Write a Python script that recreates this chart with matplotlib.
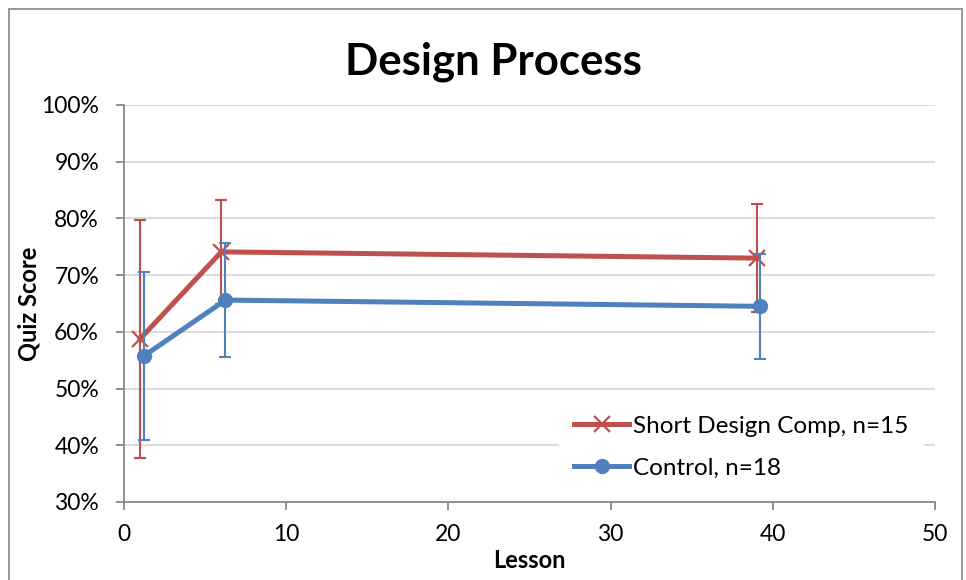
import matplotlib.pyplot as plt
from matplotlib.lines import Line2D
from matplotlib.patches import Rectangle
from matplotlib.ticker import PercentFormatter

# Values
design_lesson = [1, 6, 39]
design_score = [58.8, 74.1, 73.0]
design_err = [21.0, 9.2, 9.5]

control_lesson = [1.25, 6.25, 39.2]
control_score = [55.8, 65.6, 64.5]
control_err = [14.8, 10.0, 9.3]

labels = ["Short Design Comp, n=15", "Control, n=18"]

red = "#C0504D"
blue = "#4F81BD"

plt.rcParams["font.family"] = ["Lato", "DejaVu Sans"]

fig = plt.figure(figsize=(9.66, 5.8), dpi=100)
ax = fig.add_axes([0.1284, 0.1345, 0.8396, 0.6845])

# outer chart border
fig.patches.append(Rectangle((9 / 966, -0.05), 953 / 966, 1.05 - 9 / 580,
                             transform=fig.transFigure, fill=False,
                             edgecolor="#888888", linewidth=1.2))

ax.errorbar(design_lesson, design_score, yerr=design_err, color=red,
            linewidth=3.6, marker="x", markersize=12, markeredgewidth=1.6,
            ecolor=red, elinewidth=1.5, capsize=4.5, capthick=1.5, zorder=3)
ax.errorbar(control_lesson, control_score, yerr=control_err, color=blue,
            linewidth=3.6, marker="o", markersize=10,
            ecolor=blue, elinewidth=1.5, capsize=4.5, capthick=1.5, zorder=4)

ax.set_xlim(0, 50)
ax.set_ylim(30, 100)
ax.set_xticks(range(0, 51, 10))
ax.set_yticks(range(30, 101, 10))
ax.yaxis.set_major_formatter(PercentFormatter(decimals=0))
ax.grid(axis="y", color="#D9D9D9", linewidth=1.3)
ax.set_axisbelow(True)

for s in ["top", "right"]:
    ax.spines[s].set_visible(False)
for s in ["left", "bottom"]:
    ax.spines[s].set_color("#888888")
    ax.spines[s].set_linewidth(1.3)
ax.tick_params(axis="both", colors="#888888", length=6, width=1.3,
               labelsize=16.5, labelcolor="black")
ax.tick_params(axis="x", pad=10)
ax.tick_params(axis="y", pad=12)

fig.text(493 / 966, 1 - 75 / 580, "Design Process", fontsize=31.5,
         fontweight="bold", ha="center", va="baseline")
ax.set_xlabel("Lesson", fontsize=17, fontweight="bold")
ax.set_ylabel("Quiz Score", fontsize=17, fontweight="bold")
ax.xaxis.set_label_coords(0.5, -0.118)
ax.yaxis.set_label_coords(-0.103, 0.5)

handles = [
    Line2D([], [], color=red, linewidth=3.6, marker="x", markersize=12,
           markeredgewidth=1.6),
    Line2D([], [], color=blue, linewidth=3.6, marker="o", markersize=10),
]
ax.legend(handles, labels, loc="center left",
          bbox_to_anchor=(559 / 966, 1 - 447 / 580),
          bbox_transform=fig.transFigure, fontsize=17.5, frameon=True,
          fancybox=False, edgecolor="white", framealpha=1,
          handlelength=2.3, handletextpad=0.15, borderpad=0.6,
          borderaxespad=0, labelspacing=0.85)

fig.savefig("out.png", dpi=100)
